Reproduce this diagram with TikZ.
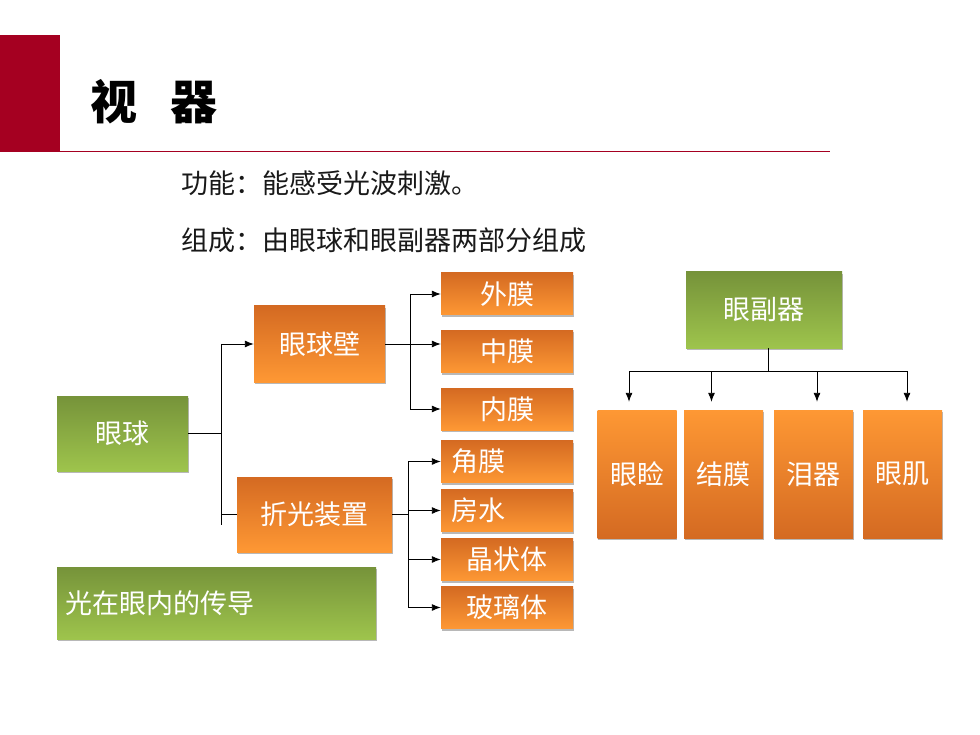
\documentclass[tikz,border=0pt]{standalone}
\usepackage{fontspec}
\setmainfont{Noto Sans CJK SC}
\usetikzlibrary{shadows,arrows.meta}
\tikzset{>={Latex[length=9pt,width=7pt]}}

\definecolor{slidered}{RGB}{165,0,33}
\definecolor{orangedark}{RGB}{212,106,34}
\definecolor{orangelight}{RGB}{254,152,52}
\definecolor{greendark}{RGB}{118,147,58}
\definecolor{greenlight}{RGB}{158,196,76}
\definecolor{bodytext}{RGB}{25,25,25}

\tikzset{
  box/.style={inner sep=0pt, text=white, font=\fontsize{27}{30}\selectfont,
    drop shadow={shadow xshift=0.6pt, shadow yshift=-2pt, fill=black!28, opacity=1}},
  orangebox/.style={box, top color=orangedark, bottom color=orangelight},
  orangeup/.style={box, top color=orangelight, bottom color=orangedark},
  greenbox/.style={box, top color=greendark, bottom color=greenlight},
  leaf/.style={orangebox, minimum width=132pt, minimum height=42pt},
  part/.style={orangeup, minimum width=79pt, minimum height=128pt},
  link/.style={black, line width=0.9pt},
}

\begin{document}
\begin{tikzpicture}[x=1pt, y=-1pt, line join=round]
    \useasboundingbox[fill=white] (0,0) rectangle (980,735);

    % title bar
    \fill[slidered] (0,35) rectangle (60,152);
    \draw[slidered, line width=0.8pt] (60,151.5) -- (830,151.5);
    \node[anchor=west, font=\fontsize{47}{50}\selectfont\bfseries] (title) at (87,102) {视\hspace{33pt}器};

    \node[anchor=west, text=bodytext, font=\fontsize{27}{30}\selectfont] (func) at (178,183) {功能：能感受光波刺激。};
    \node[anchor=west, text=bodytext, font=\fontsize{27}{30}\selectfont] (comp) at (178,240) {组成：由眼球和眼副器两部分组成};

    % eyeball tree
    \node[greenbox, minimum width=131pt, minimum height=75pt] (eye) at (122.5,433.5) {眼球};
    \node[orangebox, minimum width=131pt, minimum height=76pt] (wall) at (319.5,344) {眼球壁};
    \node[orangebox, minimum width=155pt, minimum height=75pt] (refr) at (314.5,514.5) {折光装置};

    \node[leaf] (outer) at (507,294) {外膜};
    \node[leaf] (middle) at (507,351.5) {中膜};
    \node[leaf] (inner) at (507,409) {内膜};
    \node[leaf, text width=112pt, align=left] (cornea) at (507,461.5) {角膜};
    \node[leaf, text width=112pt, align=left] (humor) at (507,510.5) {房水};
    \node[leaf] (lens) at (507,559.5) {晶状体};
    \node[leaf] (vitreous) at (507,607.5) {玻璃体};

    \node[greenbox, minimum width=319pt, minimum height=72pt, text width=303pt, align=left] (light) at (216.5,603) {光在眼内的传导};

    \coordinate (split) at (221,433.5);
    \coordinate (trunkend) at (221,525);
    \coordinate (wallbus) at (410,351.5);
    \coordinate (refrbus) at (408,514.5);

    \draw[link] (eye.east) -- (split);
    \draw[link] (split |- wall.west) -- (trunkend);
    \draw[link, ->] (split |- wall.west) -- (wall.west);
    \draw[link] (trunkend |- refr.west) -- (refr.west);

    \draw[link, ->] (wall.east) -- (wall.east -| middle.west);
    \draw[link] (wallbus |- outer.west) -- (wallbus |- inner.west);
    \foreach \n in {outer,inner}
    \draw[link, ->] (wallbus |- \n.west) -- (\n.west);

    \draw[link] (refr.east) -- (refrbus);
    \draw[link] (refrbus |- cornea.west) -- (refrbus |- vitreous.west);
    \foreach \n in {cornea,humor,lens,vitreous}
    \draw[link, ->] (refrbus |- \n.west) -- (\n.west);

    % accessory organs
    \node[greenbox, minimum width=156pt, minimum height=76pt] (acc) at (764,310) {眼副器};
    \node[part] (lid) at (637,474) {眼睑};
    \node[part] (conj) at (723.5,474) {结膜};
    \node[part] (lac) at (813.5,474) {泪器};
    \node[part] (mus) at (902.5,474) {眼肌};

    \coordinate (bus) at (768,371);
    \draw[link] (acc.south -| bus) -- (bus);
    \draw[link] ([xshift=-8pt]lid.north |- bus) -- ([xshift=4.5pt]mus.north |- bus);
    \foreach \n/\dx in {lid/-8,conj/-12,lac/3.5,mus/4.5}
    \draw[link, ->, shorten >=8pt] ([xshift=\dx pt]\n.north |- bus) -- ([xshift=\dx pt]\n.north);
\end{tikzpicture}
\end{document}
